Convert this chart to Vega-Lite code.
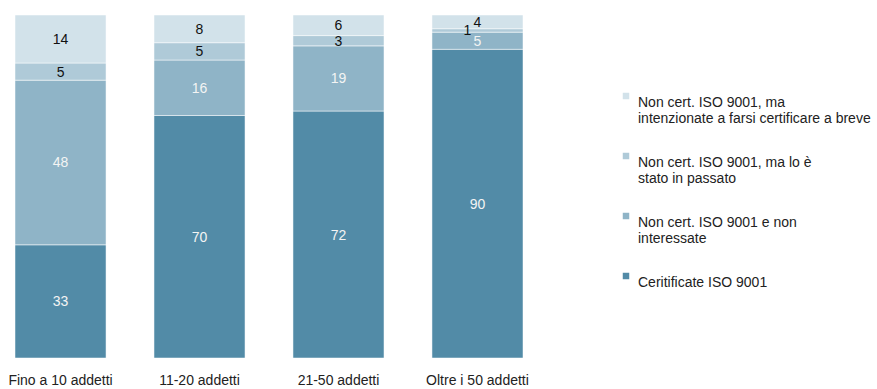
{
  "$schema": "https://vega.github.io/schema/vega-lite/v6.json",
  "autosize": "none",
  "width": 508,
  "height": 343,
  "padding": {"left": 15, "top": 15, "right": 354, "bottom": 31},
  "background": "white",
  "config": {
    "view": {"stroke": null},
    "font": "Liberation Sans",
    "text": {"font": "Liberation Sans"}
  },
  "data": {
    "values": [
      {"g": "Fino a 10 addetti", "s": "Ceritificate ISO 9001", "v": 33},
      {"g": "Fino a 10 addetti", "s": "Non cert. ISO 9001 e non interessate", "v": 48},
      {"g": "Fino a 10 addetti", "s": "Non cert. ISO 9001, ma lo è stato in passato", "v": 5},
      {"g": "Fino a 10 addetti", "s": "Non cert. ISO 9001, ma intenzionate a farsi certificare a breve", "v": 14},
      {"g": "11-20 addetti", "s": "Ceritificate ISO 9001", "v": 70},
      {"g": "11-20 addetti", "s": "Non cert. ISO 9001 e non interessate", "v": 16},
      {"g": "11-20 addetti", "s": "Non cert. ISO 9001, ma lo è stato in passato", "v": 5},
      {"g": "11-20 addetti", "s": "Non cert. ISO 9001, ma intenzionate a farsi certificare a breve", "v": 8},
      {"g": "21-50 addetti", "s": "Ceritificate ISO 9001", "v": 72},
      {"g": "21-50 addetti", "s": "Non cert. ISO 9001 e non interessate", "v": 19},
      {"g": "21-50 addetti", "s": "Non cert. ISO 9001, ma lo è stato in passato", "v": 3},
      {"g": "21-50 addetti", "s": "Non cert. ISO 9001, ma intenzionate a farsi certificare a breve", "v": 6},
      {"g": "Oltre i 50 addetti", "s": "Ceritificate ISO 9001", "v": 90},
      {"g": "Oltre i 50 addetti", "s": "Non cert. ISO 9001 e non interessate", "v": 5},
      {"g": "Oltre i 50 addetti", "s": "Non cert. ISO 9001, ma lo è stato in passato", "v": 1},
      {"g": "Oltre i 50 addetti", "s": "Non cert. ISO 9001, ma intenzionate a farsi certificare a breve", "v": 4}
    ]
  },
  "transform": [
    {"calculate": "indexof(['Ceritificate ISO 9001','Non cert. ISO 9001 e non interessate','Non cert. ISO 9001, ma lo è stato in passato','Non cert. ISO 9001, ma intenzionate a farsi certificare a breve'], datum.s)", "as": "k"},
    {"stack": "v", "groupby": ["g"], "sort": [{"field": "k", "order": "ascending"}], "offset": "normalize", "as": ["y0", "y1"]},
    {"calculate": "(datum.y0 + datum.y1) / 2", "as": "ym"}
  ],
  "encoding": {
    "x": {
      "field": "g", "type": "nominal",
      "sort": ["Fino a 10 addetti", "11-20 addetti", "21-50 addetti", "Oltre i 50 addetti"],
      "scale": {"paddingInner": 0.345, "paddingOuter": 0},
      "axis": {"title": null, "labelAngle": 0, "ticks": false, "domain": false, "labelPadding": 15, "labelFontSize": 14, "labelColor": "#222", "labelFont": "Liberation Sans"}
    }
  },
  "layer": [
    {
      "mark": {"type": "bar", "stroke": "white", "strokeWidth": 0.5},
      "encoding": {
        "y": {"field": "y0", "type": "quantitative", "scale": {"domain": [0, 1]}, "axis": null},
        "y2": {"field": "y1"},
        "color": {
          "field": "s", "type": "nominal",
          "scale": {
            "domain": ["Non cert. ISO 9001, ma intenzionate a farsi certificare a breve", "Non cert. ISO 9001, ma lo è stato in passato", "Non cert. ISO 9001 e non interessate", "Ceritificate ISO 9001"],
            "range": ["#d2e2ea", "#afcad8", "#8fb4c7", "#528ba7"]
          },
          "legend": {
            "title": null,
            "orient": "none",
            "legendX": 604,
            "legendY": 74,
            "symbolType": "square",
            "symbolSize": 42,
            "symbolStrokeWidth": 0,
            "labelFont": "Liberation Sans",
            "labelFontSize": 14,
            "labelColor": "#222",
            "labelLimit": 300,
            "labelOffset": 5,
            "labelBaseline": "top",
            "rowPadding": 23,
            "labelExpr": "datum.label == 'Non cert. ISO 9001, ma intenzionate a farsi certificare a breve' ? ['Non cert. ISO 9001, ma', 'intenzionate a farsi certificare  a breve'] : datum.label == 'Non cert. ISO 9001, ma lo è stato in passato' ? ['Non cert. ISO 9001, ma lo è', 'stato in passato'] : datum.label == 'Non cert. ISO 9001 e non interessate' ? ['Non cert. ISO 9001 e non', 'interessate'] : [datum.label, '']"
          }
        }
      }
    },
    {
      "transform": [{"filter": "!(datum.g == 'Oltre i 50 addetti' && datum.v == 1)"}],
      "mark": {"type": "text", "fontSize": 14, "font": "Liberation Sans", "baseline": "middle", "dy": 1},
      "encoding": {
        "y": {"field": "ym", "type": "quantitative", "scale": {"domain": [0, 1]}},
        "text": {"field": "v", "type": "quantitative"},
        "color": {"condition": {"test": "datum.k >= 2", "value": "#111111"}, "value": "#f4f4f4"}
      }
    },
    {
      "transform": [{"filter": "datum.g == 'Oltre i 50 addetti' && datum.v == 1"}],
      "mark": {"type": "text", "fontSize": 14, "font": "Liberation Sans", "baseline": "middle", "dx": -10, "dy": 1, "color": "#111111"},
      "encoding": {
        "y": {"field": "ym", "type": "quantitative", "scale": {"domain": [0, 1]}},
        "text": {"field": "v", "type": "quantitative"}
      }
    }
  ]
}
